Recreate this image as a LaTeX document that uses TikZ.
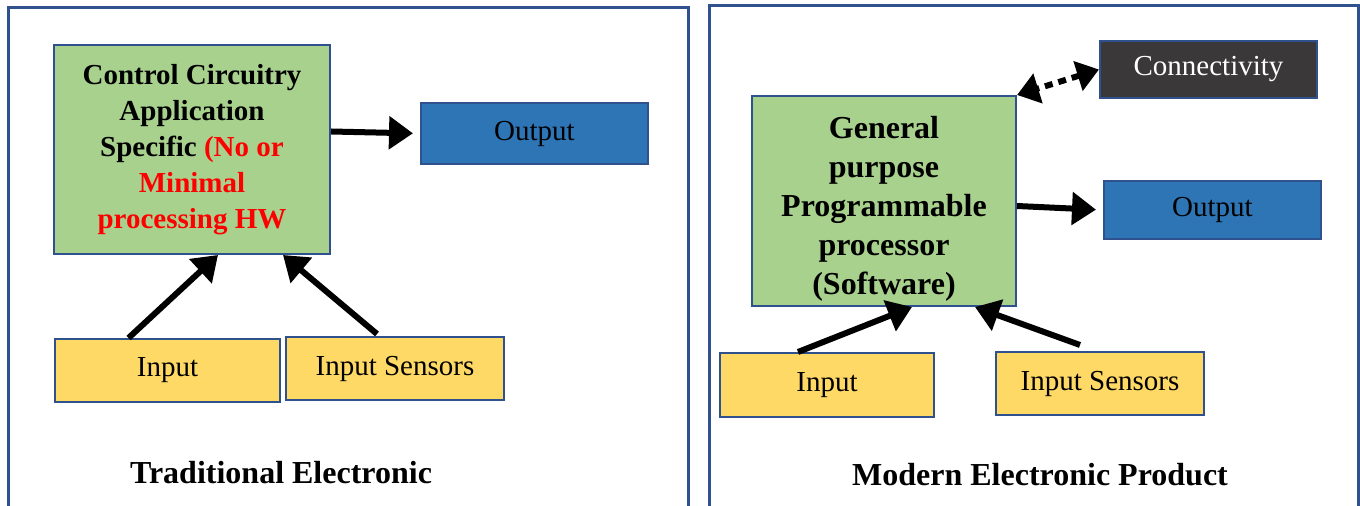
\documentclass[tikz,border=0pt]{standalone}
\usepackage{fontspec}
\setmainfont{Liberation Serif}
\usepackage{xcolor}
\usetikzlibrary{arrows.meta,positioning,calc}

\definecolor{edgeblue}{RGB}{47,82,143}
\definecolor{procgreen}{RGB}{169,209,142}
\definecolor{outblue}{RGB}{46,117,182}
\definecolor{ingold}{RGB}{255,217,102}
\definecolor{netgray}{RGB}{58,56,56}

\begin{document}
\begin{tikzpicture}[
  x=0.5pt, y=-0.5pt,
  every node/.style={font=\fontsize{14.5}{18}\selectfont, inner sep=0pt},
  panel/.style={draw=edgeblue, line width=1.5pt},
  box/.style={draw=edgeblue, line width=1pt, align=center},
  proc/.style={box, fill=procgreen, font=\fontsize{14.5}{18}\selectfont\bfseries},
  outbox/.style={box, fill=outblue},
  inbox/.style={box, fill=ingold},
  netbox/.style={box, fill=netgray, text=white},
  caption/.style={font=\fontsize{16}{19}\selectfont\bfseries},
  flow/.style={line width=3pt, -{Triangle[length=12pt,width=16pt]}},
  link/.style={line width=3pt, dash pattern=on 4pt off 3pt,
    {Triangle[length=11pt,width=15pt]}-{Triangle[length=11pt,width=15pt]}}
]
\useasboundingbox (0,0) rectangle (1360,506);

% two panels, open at the bottom
\draw[panel] (8,506) -- (8,8) -- (688,8) -- (688,506);
\draw[panel] (709,506) -- (709,6) -- (1358,6) -- (1358,506);

% traditional
\node[proc, minimum width=138pt, minimum height=104.5pt] (ctl) at (192,149.5)
  {Control Circuitry\\Application\\Specific \textcolor{red}{(No or}\\
   \textcolor{red}{Minimal}\\\textcolor{red}{processing HW}};
\node[outbox, minimum width=113.5pt, minimum height=30.5pt] (out1) at (534.5,133.5) {Output};
\node[inbox, minimum width=112.5pt, minimum height=31.5pt] (in1) at (167.5,370.5) {Input};
\node[inbox, minimum width=109pt, minimum height=31.5pt] (sen1) at (395,368.5) {Input Sensors};
\node[caption] (cap1) at (281,473) {Traditional Electronic};

\draw[flow, shorten >=3.5pt] ([yshift=9pt]ctl.east) -- (out1.west);
\draw[flow] ([xshift=-19.5pt]in1.north) -- ([xshift=13pt]ctl.south);
\draw[flow] ([xshift=-9pt,yshift=1pt]sen1.north) -- ([xshift=45.5pt]ctl.south);

% modern
\node[proc, minimum width=132pt, minimum height=105pt,
  font=\fontsize{16}{19.5}\selectfont\bfseries] (gp) at (884,201)
  {\rule{0pt}{19pt}General\\purpose\\Programmable\\processor\\(Software)};
\node[outbox, minimum width=108.5pt, minimum height=29pt] (out2) at (1212.5,210) {Output};
\node[netbox, minimum width=108.5pt, minimum height=28.5pt] (conn) at (1208.5,69.5) {Connectivity};
\node[inbox, minimum width=107pt, minimum height=32pt] (in2) at (827,385) {Input};
\node[inbox, minimum width=104pt, minimum height=31.5pt] (sen2) at (1100,383.5) {Input Sensors};
\node[caption] (cap2) at (1040,475) {Modern Electronic Product};

\draw[flow, shorten >=3.5pt] ([yshift=-2.5pt]gp.east) -- (out2.west);
\draw[flow] ([xshift=-14.5pt]in2.north) -- ([xshift=14pt]gp.south);
\draw[flow] ([xshift=-10pt,yshift=3pt]sen2.north) -- ([xshift=45.5pt]gp.south);
\draw[link] (conn.west) -- (gp.north east);
\end{tikzpicture}
\end{document}
